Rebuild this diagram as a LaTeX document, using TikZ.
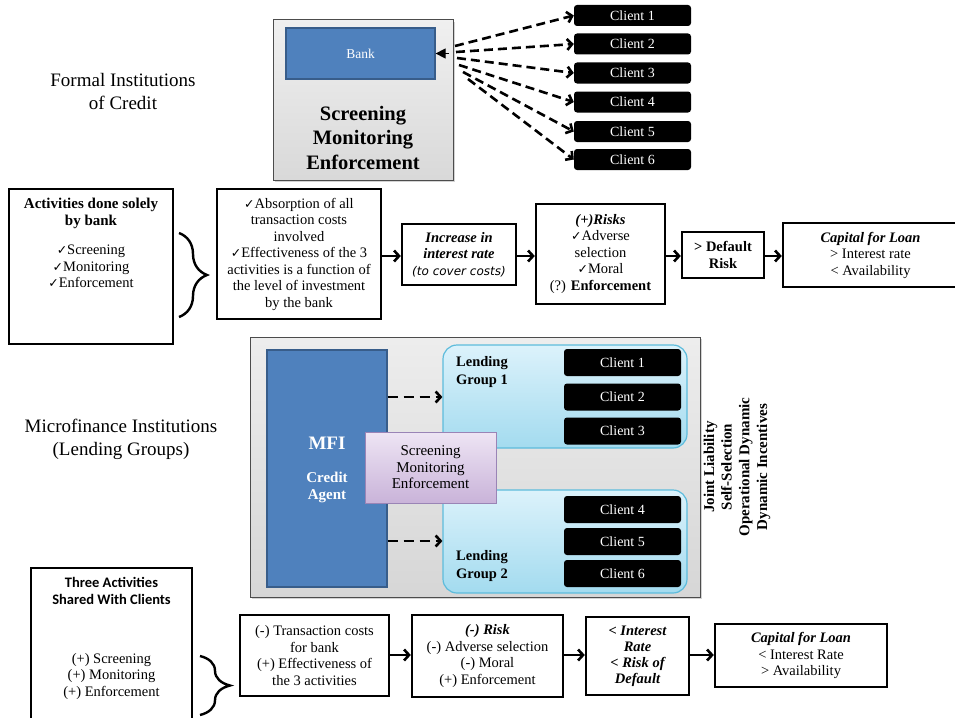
\documentclass[tikz,border=0pt]{standalone}
\usepackage{fontspec}
\setmainfont{Liberation Serif}
\newfontfamily\djv{DejaVu Sans}
\newfontfamily\carl{Carlito}
\usetikzlibrary{arrows.meta,decorations.pathreplacing,shadows}
\newcommand{\fs}[2]{\fontsize{#1}{#2}\selectfont}
\newcommand{\ck}{{\djv\fontsize{12.5}{10}\selectfont ✓}}
\definecolor{bankblue}{HTML}{4F81BD}
\definecolor{bankedge}{HTML}{385D8A}
\definecolor{lgtop}{HTML}{DCF2FB}
\definecolor{lgbot}{HTML}{A3DBEF}
\definecolor{lgedge}{HTML}{5DBCDC}
\definecolor{pptop}{HTML}{EEE5F4}
\definecolor{ppbot}{HTML}{C9B3D9}
\definecolor{ppedge}{HTML}{9A84B6}
\begin{document}
\begin{tikzpicture}[x=1pt,y=-1pt,
  box/.style={draw, line width=2.4pt, fill=white, inner sep=0pt, align=center, font=\fs{14.5}{16.5}},
  txt/.style={inner sep=0pt, align=center, font=\fs{14.5}{16.5}},
  arr/.style={line width=2.6pt, -{Straight Barb[length=5pt,width=11pt]}},
  dasharr/.style={line width=2.6pt, dash pattern=on 9pt off 5pt, -{Straight Barb[length=5pt,width=11pt]}},
  client/.style={fill=black, rounded corners=3pt, minimum width=117pt, inner sep=0pt, text=white, font=\fs{14}{16}},
  bracestyle/.style={line width=2.4pt, decorate},
  gshadow/.style={drop shadow={shadow xshift=2pt, shadow yshift=-2pt, opacity=0.35}}
]
\useasboundingbox (0,0) rectangle (955,717);

% ---------- left labels
\node[txt, font=\fs{19}{23}] (formal) at (123,91.5) {Formal Institutions\\of Credit};
\node[txt, font=\fs{19}{23}] (micro) at (121,439.5) {Microfinance Institutions\\(Lending Groups)};

% ---------- top: bank and clients
\node[draw=gray!60!black, line width=1pt, top color=gray!12, bottom color=gray!30,
      minimum width=180pt, minimum height=160pt, gshadow] (G) at (363,100) {};
\node[draw=bankedge, fill=bankblue, line width=1.2pt, minimum width=149pt, minimum height=51pt,
      text=white, font=\fs{13.5}{15}] (bank) at (360.5,53.5) {Bank};
\node[txt, font=\bfseries\fs{20.5}{24.5}] (sme) at (363,137.5) {Screening\\Monitoring\\Enforcement};

\foreach \i/\y in {1/15.5,2/44,3/73,4/102,5/131.5,6/159.5}
  \node[client, minimum height=21pt] (tc\i) at (632.5,\y) {Client \i};

\coordinate (s1) at (455,46);
\coordinate (s2) at (456,52);
\coordinate (s3) at (457,58);
\coordinate (s4) at (459,65);
\coordinate (s5) at (463,72);
\coordinate (s6) at (468,79);
\foreach \i in {1,...,6} \draw[dasharr] (s\i) -- (tc\i.west);
\coordinate (bt) at (449,53.5);
\draw[line width=1pt, -{Triangle[length=10pt,width=10pt]}] (bt) -- (bank.east);

% ---------- row 1
\node[box, minimum width=164pt, minimum height=155pt] (A) at (91,266.5) {};
\node[txt, font=\bfseries\fs{15}{17}] (Atitle) at (91,213.5) {Activities done solely\\by bank};
\node[txt] (Aitems) at (91,266.5) {\ck Screening\\\ck Monitoring\\\ck Enforcement};
\coordinate (br1a) at (179,233);
\coordinate (br1b) at (179,317);
\draw[bracestyle, decoration={brace, amplitude=28pt}] (br1a) -- (br1b);

\node[box, minimum width=164pt, minimum height=130pt] (B) at (299,254)
  {\ck Absorption of all\\transaction costs\\involved\\\ck Effectiveness of the 3\\activities is a function of\\the level of investment\\by the bank};
\node[box, minimum width=114pt, minimum height=61pt] (C) at (459,254.5)
  {\textbf{\textit{Increase in}}\\\textbf{\textit{interest rate}}\\{\djv\itshape\fs{12}{14}(to cover costs)}};
\node[box, minimum width=129pt, minimum height=100pt] (D) at (600.5,254)
  {\textbf{\textit{(+)Risks}}\\\ck Adverse\\selection\\\ck Moral\\(?) \textbf{Enforcement}};
\node[box, minimum width=82pt, minimum height=46pt] (E) at (723,255)
  {\textbf{> Default}\\\textbf{Risk}};
\node[box, minimum width=175pt, minimum height=64pt] (F) at (870.5,255)
  {\textbf{\textit{Capital for Loan}}\\> Interest rate\\< Availability};
\draw[arr] (B.east |- 0,256) -- (C.west |- 0,256);
\draw[arr] (C.east |- 0,256) -- (D.west |- 0,256);
\draw[arr] (D.east |- 0,256) -- (E.west |- 0,256);
\draw[arr] (E.east |- 0,256) -- (F.west |- 0,256);

% ---------- middle: MFI
\node[draw=gray!60!black, line width=1pt, top color=gray!14, bottom color=gray!32,
      minimum width=450pt, minimum height=260pt, gshadow] (M) at (475,467) {};
\node[draw=bankedge, fill=bankblue, line width=1.2pt, minimum width=120pt, minimum height=237pt] (mfi) at (327,468.5) {};
\node[draw=lgedge, line width=1.2pt, top color=lgtop, bottom color=lgbot, rounded corners=14pt,
      minimum width=244pt, minimum height=103pt] (lg1) at (565,396.5) {};
\node[draw=lgedge, line width=1.2pt, top color=lgtop, bottom color=lgbot, rounded corners=14pt,
      minimum width=244pt, minimum height=103pt] (lg2) at (565,541.5) {};
\foreach \i/\y in {1/362.5,2/397,3/431,4/509.5,5/541.5,6/573.5}
  \node[client, minimum height=27pt] (mc\i) at (622.5,\y) {Client \i};
\node[draw=ppedge, line width=1pt, top color=pptop, bottom color=ppbot, minimum width=131pt,
      minimum height=71pt, txt, font=\fs{15}{16.5}] (pp) at (430.5,467.5) {Screening\\Monitoring\\Enforcement};
\node[txt, text=white, font=\bfseries\fs{19}{20}] (mfit) at (327,443) {MFI};
\node[txt, text=white, font=\bfseries\fs{15}{17}] (cat) at (327,487.5) {Credit\\Agent};
\node[txt, anchor=west, align=left, font=\bfseries\fs{14.5}{18}] (lg1t) at (456,372) {Lending\\Group 1};
\node[txt, anchor=west, align=left, font=\bfseries\fs{14.5}{18}] (lg2t) at (456,566.5) {Lending\\Group 2};
\draw[dasharr, dash pattern=on 10pt off 6pt] (mfi.east |- 0,397) -- (lg1.west |- 0,397);
\draw[dasharr, dash pattern=on 10pt off 6pt] (mfi.east |- 0,541) -- (lg2.west |- 0,541);
\node[txt, rotate=90, font=\bfseries\fs{15}{17.7}] (feat) at (737,467)
  {Joint Liability\\Self-Selection\\Operational Dynamic\\Dynamic Incentives};

% ---------- row 3
\node[box, minimum width=161pt, minimum height=154pt] (S) at (111.5,645) {};
\node[txt, font={\carl\bfseries\fs{14.5}{17}}] (Stitle) at (111.5,590.5) {Three Activities\\Shared With Clients};
\node[txt] (Sitems) at (111.5,676.5) {(+) Screening\\(+) Monitoring\\(+) Enforcement};
\coordinate (br2a) at (200,656);
\coordinate (br2b) at (200,715);
\draw[bracestyle, decoration={brace, amplitude=30pt}] (br2a) -- (br2b);

\node[box, minimum width=149pt, minimum height=81pt] (T) at (314.5,655.5)
  {(-) Transaction costs\\for bank\\(+) Effectiveness of\\the 3 activities};
\node[box, minimum width=151pt, minimum height=82pt] (R) at (487.5,656)
  {\textbf{\textit{(-) Risk}}\\(-) Adverse selection\\(-) Moral\\(+) Enforcement};
\node[box, minimum width=103pt, minimum height=78pt, font=\bfseries\itshape\fs{14.5}{16}] (I) at (637.5,656)
  {< Interest\\Rate\\< Risk of\\Default};
\node[box, minimum width=172pt, minimum height=63pt] (K) at (801,655.5)
  {\textbf{\textit{Capital for Loan}}\\< Interest Rate\\> Availability};
\draw[arr] (T.east |- 0,655) -- (R.west |- 0,655);
\draw[arr] (R.east |- 0,655) -- (I.west |- 0,655);
\draw[arr] (I.east |- 0,655) -- (K.west |- 0,655);
\end{tikzpicture}
\end{document}
